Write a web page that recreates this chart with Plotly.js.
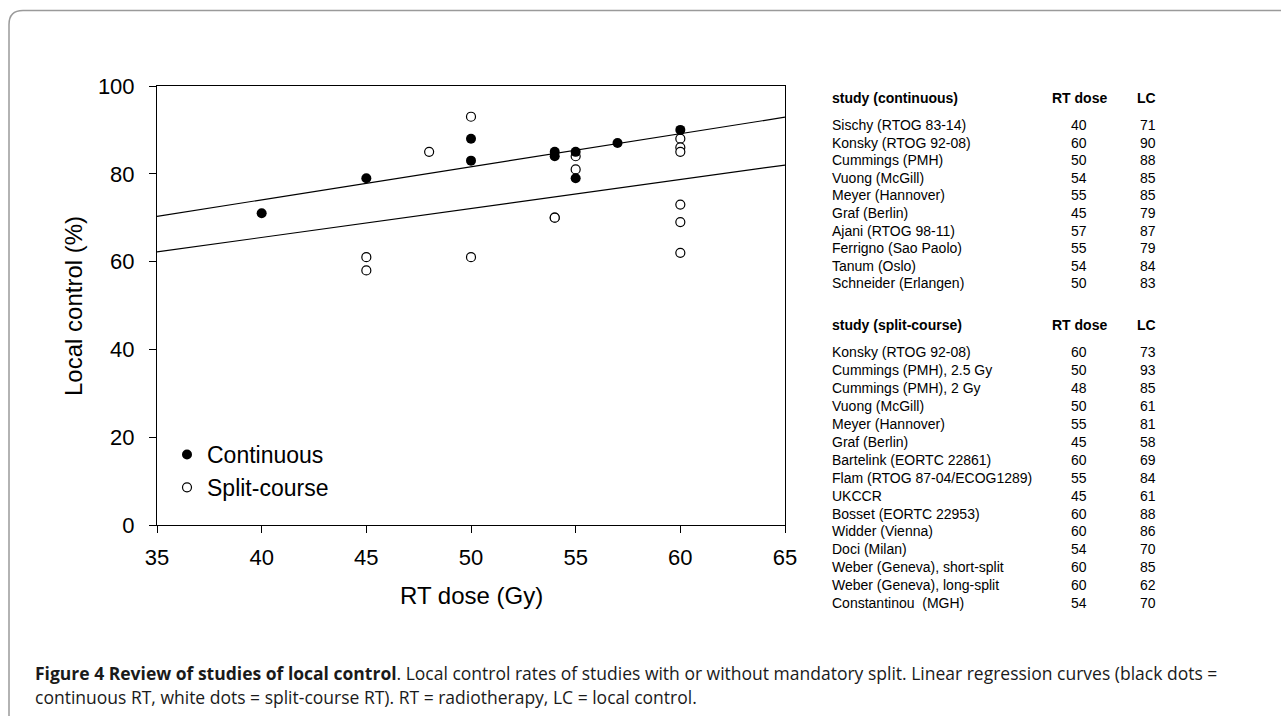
<!DOCTYPE html>
<html>
<head>
<meta charset="utf-8">
<script src="https://cdn.plot.ly/plotly-3.0.1.min.js"></script>
<style>
html,body{margin:0;padding:0;background:#fff;}
#chart{width:1281px;height:716px;}
</style>
</head>
<body>
<div id="chart"></div>
<script>
// ---- data ----
const contDose = [40, 60, 50, 54, 55, 45, 57, 55, 54, 50];
const contLC   = [71, 90, 88, 85, 85, 79, 87, 79, 84, 83];
const contStudies = ["Sischy (RTOG 83-14)", "Konsky (RTOG 92-08)", "Cummings (PMH)", "Vuong (McGill)",
  "Meyer (Hannover)", "Graf (Berlin)", "Ajani (RTOG 98-11)", "Ferrigno (Sao Paolo)", "Tanum (Oslo)", "Schneider (Erlangen)"];

const splitDose = [60, 50, 48, 50, 55, 45, 60, 55, 45, 60, 60, 54, 60, 60, 54];
const splitLC   = [73, 93, 85, 61, 81, 58, 69, 84, 61, 88, 86, 70, 85, 62, 70];
const splitStudies = ["Konsky (RTOG 92-08)", "Cummings (PMH), 2.5 Gy", "Cummings (PMH), 2 Gy", "Vuong (McGill)",
  "Meyer (Hannover)", "Graf (Berlin)", "Bartelink (EORTC 22861)", "Flam (RTOG 87-04/ECOG1289)", "UKCCR",
  "Bosset (EORTC 22953)", "Widder (Vienna)", "Doci (Milan)", "Weber (Geneva), short-split",
  "Weber (Geneva), long-split", "Constantinou  (MGH)"];

// regression lines (end points)
const fitDose = [35, 65];
const contFitLC = [70.3, 92.9];
const splitFitLC = [62.2, 82.0];

const xTicks = [35, 40, 45, 50, 55, 60, 65];
const yTicks = [0, 20, 40, 60, 80, 100];

// ---- geometry (pixels) ----
const W = 1281, H = 716;
const L = 157, R = 785, T = 86, B = 525;
const px = v => (v - L) / (R - L);
const py = v => (B - v) / (B - T);

const arial = "Arial, 'Liberation Sans', Helvetica, sans-serif";
const capFont = "'Open Sans', 'Noto Sans', sans-serif";

const traces = [
  {x: fitDose, y: contFitLC, mode: 'lines', line: {color: '#000', width: 1.2}, showlegend: false, hoverinfo: 'skip'},
  {x: fitDose, y: splitFitLC, mode: 'lines', line: {color: '#000', width: 1.2}, showlegend: false, hoverinfo: 'skip'},
  {x: splitDose, y: splitLC, mode: 'markers', name: 'Split-course', legendrank: 2,
   marker: {symbol: 'circle', size: 9, color: '#fff', line: {color: '#000', width: 1.2}}},
  {x: contDose, y: contLC, mode: 'markers', name: 'Continuous', legendrank: 1,
   marker: {symbol: 'circle', size: 10, color: '#000', line: {color: '#000', width: 0}}}
];

const ann = [];
function txt(x, y, text, opts) {
  ann.push(Object.assign({xref: 'paper', yref: 'paper', x: px(x), y: py(y), text: text, showarrow: false,
    xanchor: 'left', yanchor: 'middle', font: {family: arial, size: 14, color: '#000'}}, opts || {}));
}

// axis titles
txt(73, 306, 'Local control (%)', {xanchor: 'center', textangle: -90, font: {family: arial, size: 24, color: '#000'}});
txt(471, 595, 'RT dose (Gy)', {xanchor: 'center', font: {family: arial, size: 24, color: '#000'}});

// table: continuous
const colStudy = 830, colDose = 1079, colLC = 1158;
txt(colStudy, 97.5, '<b>study (continuous)</b>');
txt(colDose, 97.5, '<b>RT dose</b>', {xanchor: 'center'});
txt(colLC, 97.5, '<b>LC</b>', {xanchor: 'right'});
contStudies.forEach((s, i) => {
  const y = 125 + i * 17.6;
  txt(colStudy, y, s);
  txt(colDose, y, String(contDose[i]), {xanchor: 'center'});
  txt(colLC, y, String(contLC[i]), {xanchor: 'right'});
});
// table: split-course
txt(colStudy, 325, '<b>study (split-course)</b>');
txt(colDose, 325, '<b>RT dose</b>', {xanchor: 'center'});
txt(colLC, 325, '<b>LC</b>', {xanchor: 'right'});
splitStudies.forEach((s, i) => {
  const y = 352.4 + i * 17.9;
  txt(colStudy, y, s);
  txt(colDose, y, String(splitDose[i]), {xanchor: 'center'});
  txt(colLC, y, String(splitLC[i]), {xanchor: 'right'});
});

// caption
txt(33, 673, '<b>Figure 4 Review of studies of local control</b>. Local control rates of studies with or without mandatory split. Linear regression curves (black dots =',
  {font: {family: capFont, size: 17.5, color: '#1a1a1a'}});
txt(33, 697, 'continuous RT, white dots = split-course RT). RT = radiotherapy, LC = local control.',
  {font: {family: capFont, size: 17.5, color: '#1a1a1a'}});

// outer rounded frame (extends past right and bottom edges)
const fr = 14;
const frame = `M ${px(9)},${py(740)} L ${px(9)},${py(10.5 + fr)} Q ${px(9)},${py(10.5)} ${px(9 + fr)},${py(10.5)} L ${px(1300)},${py(10.5)}`;

const axisCommon = {
  showline: true, linecolor: '#000', linewidth: 1, mirror: true,
  ticks: 'outside', ticklen: 7, tickwidth: 1, tickcolor: '#000',
  showgrid: false, zeroline: false, fixedrange: true,
  tickfont: {family: arial, size: 22, color: '#000'}
};

const layout = {
  width: W, height: H,
  margin: {l: L, r: W - R, t: T, b: H - B, pad: 0},
  paper_bgcolor: '#fff', plot_bgcolor: '#fff',
  xaxis: Object.assign({}, axisCommon, {range: [35, 65], tickvals: xTicks, ticklabelstandoff: 6}),
  yaxis: Object.assign({}, axisCommon, {range: [0, 100], tickvals: yTicks, ticklabelstandoff: 10}),
  showlegend: true,
  legend: {x: px(167), y: py(433), xanchor: 'left', yanchor: 'top', bgcolor: 'rgba(0,0,0,0)',
           font: {family: arial, size: 23, color: '#000'}, itemwidth: 30, tracegroupgap: 0},
  annotations: ann,
  shapes: [{type: 'path', xref: 'paper', yref: 'paper', path: frame, line: {color: '#9a9a9a', width: 1.5}}]
};

Plotly.newPlot('chart', traces, layout, {displayModeBar: false, staticPlot: true});
</script>
</body>
</html>
